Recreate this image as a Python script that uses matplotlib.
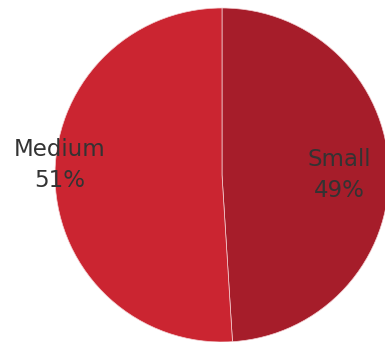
import matplotlib
matplotlib.use("Agg")
import matplotlib.pyplot as plt

categories = ["Small", "Medium"]
shares = [49, 51]
colors = ["#A61D2A", "#CB2531"]

W, H, DPI = 385, 342, 100
fig = plt.figure(figsize=(W / DPI, H / DPI), dpi=DPI)
ax = fig.add_axes([0, 0, 1, 1])

R = 167.0
cx, cy = 222.0, 175.0

wedges, _ = ax.pie(shares, colors=colors, startangle=90, counterclock=False,
                   radius=1.0, center=(0, 0), frame=True,
                   wedgeprops=dict(edgecolor="#F4D0D3", linewidth=0.5))
ax.set_xlim(-cx / R, (W - cx) / R)
ax.set_ylim(-(H - cy) / R, cy / R)
ax.set_aspect("auto")
ax.axis("off")

label_pos = {"Small": (0.70, 0.0), "Medium": (-0.97, 0.06)}
for cat, val in zip(categories, shares):
    x, y = label_pos[cat]
    ax.text(x, y, f"{cat}\n{val}%", ha="center", va="center",
            fontsize=16.5, color="#333333", linespacing=1.45,
            family="DejaVu Sans")

fig.savefig("out.png", dpi=DPI)
